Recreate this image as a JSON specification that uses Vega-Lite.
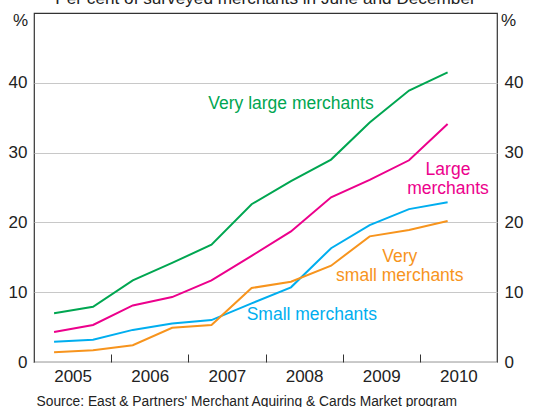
{
  "$schema": "https://vega.github.io/schema/vega-lite/v6.json",
  "width": 463,
  "height": 349,
  "autosize": "none",
  "padding": {"left": 34, "top": 13, "right": 38, "bottom": 45},
  "background": "white",
  "config": {
    "font": "Liberation Sans",
    "view": {"stroke": "#333", "strokeWidth": 1.2},
    "axis": {"labelFont": "Liberation Sans", "labelColor": "#222", "titleFont": "Liberation Sans"}
  },
  "title": {
    "text": "Per cent of surveyed merchants in June and December",
    "fontSize": 17.2,
    "fontWeight": "normal",
    "color": "#222",
    "anchor": "middle",
    "offset": 4
  },
  "datasets": {
    "series": [
      {"t": 2005.26, "s": "Very large", "v": 7.0},
      {"t": 2005.765, "s": "Very large", "v": 7.9},
      {"t": 2006.28, "s": "Very large", "v": 11.7},
      {"t": 2006.79, "s": "Very large", "v": 14.2},
      {"t": 2007.30, "s": "Very large", "v": 16.8},
      {"t": 2007.82, "s": "Very large", "v": 22.6},
      {"t": 2008.33, "s": "Very large", "v": 25.9},
      {"t": 2008.85, "s": "Very large", "v": 29.0},
      {"t": 2009.35, "s": "Very large", "v": 34.3},
      {"t": 2009.86, "s": "Very large", "v": 38.9},
      {"t": 2010.36, "s": "Very large", "v": 41.5},
      {"t": 2005.26, "s": "Large", "v": 4.3},
      {"t": 2005.765, "s": "Large", "v": 5.3},
      {"t": 2006.28, "s": "Large", "v": 8.1},
      {"t": 2006.79, "s": "Large", "v": 9.3},
      {"t": 2007.30, "s": "Large", "v": 11.7},
      {"t": 2007.82, "s": "Large", "v": 15.2},
      {"t": 2008.33, "s": "Large", "v": 18.7},
      {"t": 2008.85, "s": "Large", "v": 23.6},
      {"t": 2009.35, "s": "Large", "v": 26.1},
      {"t": 2009.86, "s": "Large", "v": 28.9},
      {"t": 2010.36, "s": "Large", "v": 34.1},
      {"t": 2005.26, "s": "Small", "v": 2.9},
      {"t": 2005.765, "s": "Small", "v": 3.2},
      {"t": 2006.28, "s": "Small", "v": 4.6},
      {"t": 2006.79, "s": "Small", "v": 5.5},
      {"t": 2007.30, "s": "Small", "v": 6.0},
      {"t": 2007.82, "s": "Small", "v": 8.4},
      {"t": 2008.33, "s": "Small", "v": 10.7},
      {"t": 2008.85, "s": "Small", "v": 16.3},
      {"t": 2009.35, "s": "Small", "v": 19.6},
      {"t": 2009.86, "s": "Small", "v": 21.9},
      {"t": 2010.36, "s": "Small", "v": 22.9},
      {"t": 2005.26, "s": "Very small", "v": 1.4},
      {"t": 2005.765, "s": "Very small", "v": 1.7},
      {"t": 2006.28, "s": "Very small", "v": 2.4},
      {"t": 2006.79, "s": "Very small", "v": 4.9},
      {"t": 2007.30, "s": "Very small", "v": 5.3},
      {"t": 2007.82, "s": "Very small", "v": 10.6},
      {"t": 2008.33, "s": "Very small", "v": 11.5},
      {"t": 2008.85, "s": "Very small", "v": 13.8},
      {"t": 2009.35, "s": "Very small", "v": 18.0},
      {"t": 2009.86, "s": "Very small", "v": 18.9},
      {"t": 2010.36, "s": "Very small", "v": 20.2}
    ],
    "labels": [
      {"t": 2008.33, "v": 36.9, "s": "Very large", "label": ["Very large merchants"]},
      {"t": 2010.365, "v": 27.5, "s": "Large", "label": ["Large", "merchants"]},
      {"t": 2009.74, "v": 15.05, "s": "Very small", "label": ["Very", "small merchants"]},
      {"t": 2008.60, "v": 6.8, "s": "Small", "label": ["Small merchants"]}
    ]
  },
  "layer": [
    {
      "data": {"name": "series"},
      "mark": {"type": "line", "strokeWidth": 2},
      "encoding": {
        "x": {
          "field": "t", "type": "quantitative",
          "scale": {"domain": [2005, 2011], "nice": false, "zero": false},
          "axis": {
            "values": [2005.5, 2006, 2006.5, 2007, 2007.5, 2008, 2008.5, 2009, 2009.5, 2010, 2010.5],
            "labelExpr": "datum.value % 1 === 0 ? '' : '' + floor(datum.value)",
            "labelFontSize": 17,
            "labelPadding": 14,
            "tickSize": -8,
            "tickWidth": 1,
            "tickColor": {"condition": {"test": "datum.value % 1 === 0", "value": "#333"}, "value": "transparent"},
            "domain": false,
            "grid": false,
            "title": "Source: East & Partners' Merchant Aquiring & Cards Market program",
            "titleFontSize": 13.8,
            "titleFontWeight": "normal",
            "titleColor": "#222",
            "titleAnchor": "start",
            "titleAlign": "left",
            "titleBaseline": "middle",
            "titleX": 2,
            "titleY": 39
          }
        },
        "y": {
          "field": "v", "type": "quantitative",
          "scale": {"domain": [0, 50], "nice": false},
          "axis": {
            "orient": "left",
            "values": [0, 10, 20, 30, 40],
            "labelFontSize": 17,
            "labelPadding": 7,
            "ticks": false,
            "domain": false,
            "grid": true,
            "gridColor": "#c8c8c8",
            "gridWidth": 1,
            "title": "%",
            "titleAngle": 0,
            "titleFontSize": 17,
            "titleFontWeight": "normal",
            "titleColor": "#222",
            "titleAlign": "center",
            "titleBaseline": "middle",
            "titleX": -14,
            "titleY": 7
          }
        },
        "color": {
          "field": "s", "type": "nominal",
          "scale": {"domain": ["Very large", "Large", "Small", "Very small"], "range": ["#00a651", "#ec008c", "#00aeef", "#f7941d"]},
          "legend": null
        }
      }
    },
    {
      "data": {"name": "labels"},
      "mark": {"type": "text", "fontSize": 17.5, "align": "center", "baseline": "middle", "lineHeight": 19},
      "encoding": {
        "x": {
          "field": "t", "type": "quantitative",
          "axis": {
            "values": [2005.5, 2006, 2006.5, 2007, 2007.5, 2008, 2008.5, 2009, 2009.5, 2010, 2010.5],
            "labelExpr": "datum.value % 1 === 0 ? '' : '' + floor(datum.value)",
            "labelFontSize": 17,
            "labelPadding": 14,
            "tickSize": -8,
            "tickWidth": 1,
            "tickColor": {"condition": {"test": "datum.value % 1 === 0", "value": "#333"}, "value": "transparent"},
            "domain": false,
            "grid": false,
            "title": "Source: East & Partners' Merchant Aquiring & Cards Market program",
            "titleFontSize": 13.8,
            "titleFontWeight": "normal",
            "titleColor": "#222",
            "titleAnchor": "start",
            "titleAlign": "left",
            "titleBaseline": "middle",
            "titleX": 2,
            "titleY": 39
          }
        },
        "y": {
          "field": "v", "type": "quantitative",
          "axis": {
            "orient": "right",
            "values": [0, 10, 20, 30, 40],
            "labelFontSize": 17,
            "labelPadding": 7,
            "ticks": false,
            "domain": false,
            "grid": false,
            "title": "%",
            "titleAngle": 0,
            "titleFontSize": 17,
            "titleFontWeight": "normal",
            "titleColor": "#222",
            "titleAlign": "center",
            "titleBaseline": "middle",
            "titleX": 11,
            "titleY": 7
          }
        },
        "text": {"field": "label"},
        "color": {"field": "s", "type": "nominal", "legend": null}
      }
    }
  ],
  "resolve": {"axis": {"y": "independent"}}
}
